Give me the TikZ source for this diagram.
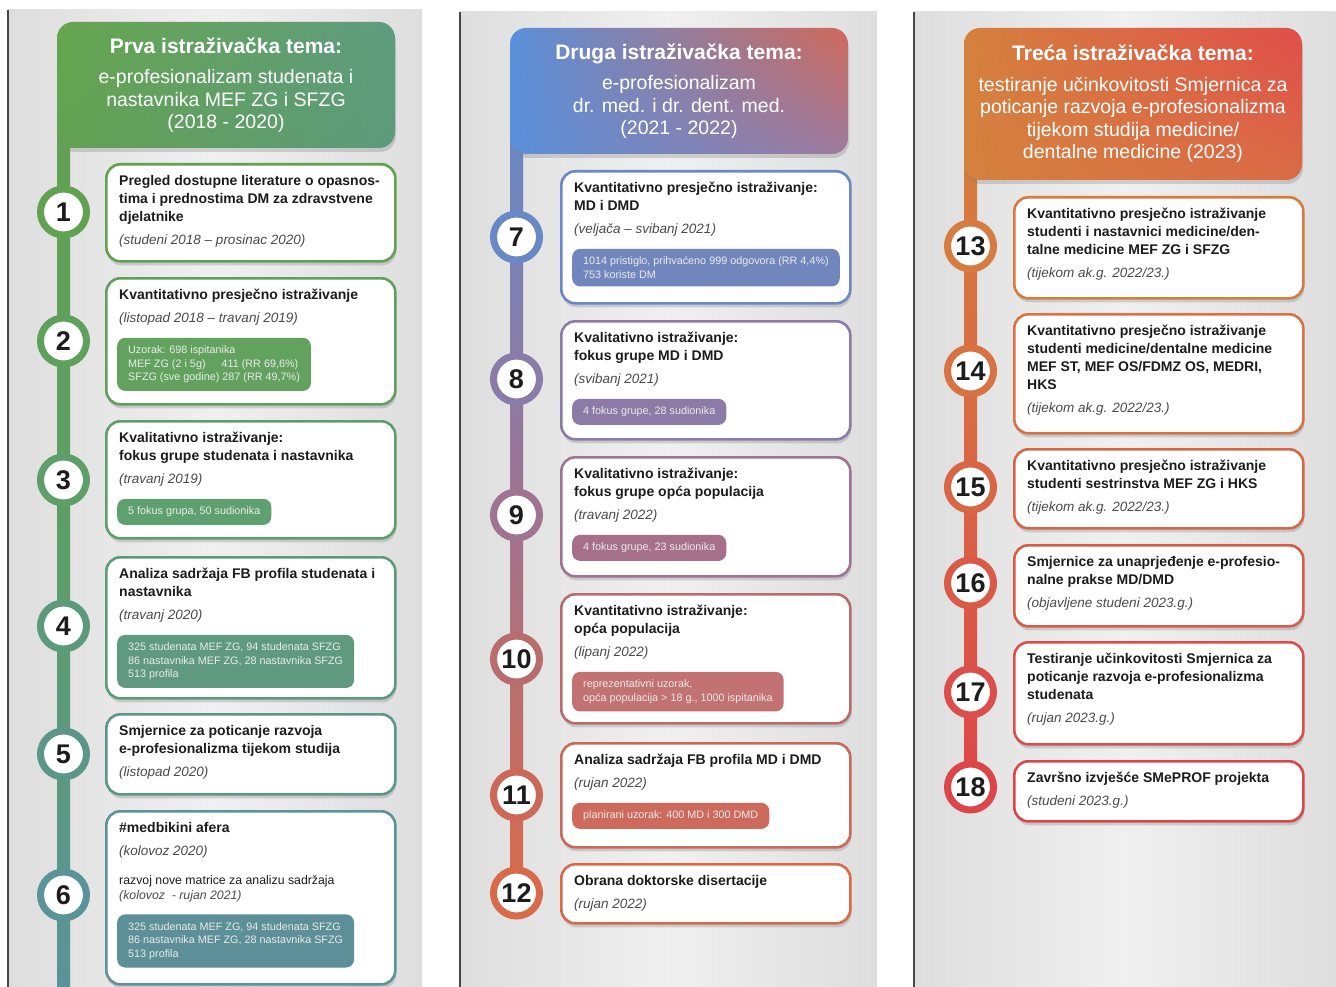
\documentclass[tikz,border=0pt]{standalone}
\usepackage{fontspec}
\setmainfont{Liberation Sans}
\usepackage{xcolor}
\usetikzlibrary{positioning,shadows,shadings}

% panel 1 (green)
\definecolor{gA}{HTML}{62A152}
\definecolor{gB}{HTML}{5FA05C}
\definecolor{gC}{HTML}{5E9E68}
\definecolor{gD}{HTML}{5C9A7C}
\definecolor{gE}{HTML}{5B9788}
\definecolor{gF}{HTML}{5A9398}
% panel 2 (blue to red)
\definecolor{bA}{HTML}{6A88C6}
\definecolor{bB}{HTML}{8A7CA8}
\definecolor{bC}{HTML}{A07390}
\definecolor{bD}{HTML}{B86C6C}
\definecolor{bE}{HTML}{CC6858}
\definecolor{bF}{HTML}{D86A4A}
% panel 3 (orange to red)
\definecolor{oA}{HTML}{D67C40}
\definecolor{oB}{HTML}{D87242}
\definecolor{oC}{HTML}{D86645}
\definecolor{oD}{HTML}{DA5A48}
\definecolor{oE}{HTML}{DC4E4C}
\definecolor{oF}{HTML}{DD4649}
% badges
\definecolor{badgeA}{HTML}{63A25E}
\definecolor{badgeB}{HTML}{5FA070}
\definecolor{badgeC}{HTML}{5F9A80}
\definecolor{badgeD}{HTML}{5C8F98}
\definecolor{badgeE}{HTML}{7086BC}
\definecolor{badgeF}{HTML}{8B7BA6}
\definecolor{badgeG}{HTML}{A6708A}
\definecolor{badgeH}{HTML}{C27272}
\definecolor{badgeI}{HTML}{CD6A5C}
% headers
\definecolor{headA}{HTML}{66A64E}
\definecolor{headB}{HTML}{5E9C80}
\definecolor{headC}{HTML}{5A8FDA}
\definecolor{headD}{HTML}{D0695A}
\definecolor{headE}{HTML}{9E7A9E}
\definecolor{headF}{HTML}{D5813E}
\definecolor{headG}{HTML}{E04E4A}
\definecolor{headH}{HTML}{DA6B45}
% text
\definecolor{titleblack}{HTML}{1C1C1C}
\definecolor{dategray}{HTML}{4A4A4A}

\begin{document}
\begin{tikzpicture}[
  x=1pt, y=-1pt,
  every node/.style={font=\fontsize{14}{18}\selectfont},
  panel/.style={left color=gray!26, right color=gray!26, middle color=gray!12},
  head/.style={
    rounded corners=16pt, minimum width=338pt, text=white, align=center,
    font=\fontsize{19.5}{22.5}\selectfont,
    drop shadow={opacity=0.3, shadow xshift=1pt, shadow yshift=-4pt}
  },
  card/.style={
    draw=#1, line width=2.6pt, fill=white, rounded corners=14pt,
    minimum width=289pt, anchor=north west,
    drop shadow={opacity=0.3, shadow xshift=1pt, shadow yshift=-4pt}
  },
  dot/.style={
    circle, draw=#1, line width=7pt, fill=white, minimum size=46pt,
    inner sep=0pt, text=titleblack, font=\fontsize{27}{27}\selectfont\bfseries
  },
  txt/.style={
    align=left, inner sep=0pt, anchor=north west, text=titleblack,
    font=\fontsize{14}{18}\selectfont\bfseries
  },
  datefont/.style={font=\fontsize{13.5}{18}\selectfont},
  badge/.style={
    fill=#1, rounded corners=8pt, inner xsep=11pt, inner ysep=8pt,
    align=left, anchor=north west, text=white!92!black,
    font=\fontsize{10.8}{13.5}\selectfont
  }
]

\useasboundingbox (0,0) rectangle (1336,987);

% --- Panels ---
\shade[panel] (8,10) rectangle (422,987);
\shade[panel] (460,12) rectangle (877,987);
\shade[panel] (914,12) rectangle (1336,987);
\draw[gray!55!black, line width=1.2pt] (8,10) -- (8,987);
\draw[gray!55!black, line width=1.2pt] (460,12) -- (460,987);
\draw[gray!55!black, line width=1.2pt] (914,12) -- (914,987);

% --- Spines ---
\coordinate (s1) at (57,130);
\coordinate (e1) at (70,987);
\coordinate (s2) at (510,136);
\coordinate (e2) at (523,893);
\coordinate (s3) at (964,162);
\coordinate (e3) at (977,787);
\shade[top color=gA, bottom color=gF, middle color=gC] (s1) rectangle (e1);
\shade[top color=bA, bottom color=bF, middle color=bC] (s2) rectangle (e2);
\shade[top color=oA, bottom color=oF, middle color=oC] (s3) rectangle (e3);

% --- Headers ---
\node[head, minimum height=126pt, upper left=headA, lower left=gA,
  upper right=headB, lower right=gD] (h1) at (226,85)
  {{\fontsize{21}{24}\selectfont\bfseries Prva istraživačka tema:}\\[8pt]
   e-profesionalizam studenata i\\nastavnika MEF ZG i SFZG\\(2018 - 2020)};

\node[head, minimum height=126pt, upper left=headC, lower left=headC,
  upper right=headD, lower right=headE] (h2) at (679,91)
  {{\fontsize{21}{24}\selectfont\bfseries Druga istraživačka tema:}\\[8pt]
   e-profesionalizam\\dr. med. i dr. dent. med.\\(2021 - 2022)};

\node[head, minimum height=152pt, upper left=headF, lower left=headF,
  upper right=headG, lower right=headH] (h3) at (1133,104)
  {{\fontsize{21}{24}\selectfont\bfseries Treća istraživačka tema:}\\[8pt]
   testiranje učinkovitosti Smjernica za\\poticanje razvoja e-profesionalizma\\tijekom studija medicine/\\dentalne medicine (2023)};

% --- Steps, first theme ---
\node[dot=gA] (n1) at (63.5,212) {1};
\node[dot=gB] (n2) at (63.5,341) {2};
\node[dot=gC] (n3) at (63.5,480) {3};
\node[dot=gD] (n4) at (63.5,626) {4};
\node[dot=gE] (n5) at (63.5,754) {5};
\node[dot=gF] (n6) at (63.5,895) {6};

\node[card=gA, minimum height=97pt] (k1) at (105,163) {};
\node[txt, below right=12pt and 14pt of k1.north west] (t1)
  {Pregled dostupne literature o opasnos-\\tima i prednostima DM za zdravstvene\\djelatnike\\[5pt]
   \mdseries\itshape\fontsize{13.5}{18}\selectfont\color{dategray}(studeni 2018 – prosinac 2020)};

\node[card=gB, minimum height=126pt] (k2) at (105,277) {};
\node[txt, below right=12pt and 14pt of k2.north west] (t2)
  {Kvantitativno presječno istraživanje\\[5pt]
   \mdseries\itshape\fontsize{13.5}{18}\selectfont\color{dategray}(listopad 2018 – travanj 2019)};
\node[badge=badgeA, below right=12pt and -2pt of t2.south west] (b2)
  {Uzorak: 698 ispitanika\\MEF ZG (2 i 5g)\hspace{16pt}411 (RR 69,6\%)\\SFZG (sve godine)\ 287 (RR 49,7\%)};

\node[card=gC, minimum height=117pt] (k3) at (105,420) {};
\node[txt, below right=12pt and 14pt of k3.north west] (t3)
  {Kvalitativno istraživanje:\\fokus grupe studenata i nastavnika\\[5pt]
   \mdseries\itshape\fontsize{13.5}{18}\selectfont\color{dategray}(travanj 2019)};
\node[badge=badgeB, below right=12pt and -2pt of t3.south west] (b3)
  {5 fokus grupa, 50 sudionika};

\node[card=gD, minimum height=141pt] (k4) at (105,556) {};
\node[txt, below right=12pt and 14pt of k4.north west] (t4)
  {Analiza sadržaja FB profila studenata i\\nastavnika\\[5pt]
   \mdseries\itshape\fontsize{13.5}{18}\selectfont\color{dategray}(travanj 2020)};
\node[badge=badgeC, below right=12pt and -2pt of t4.south west] (b4)
  {325 studenata MEF ZG, 94 studenata SFZG\\86 nastavnika MEF ZG, 28 nastavnika SFZG\\513 profila};

\node[card=gE, minimum height=80pt] (k5) at (105,713) {};
\node[txt, below right=12pt and 14pt of k5.north west] (t5)
  {Smjernice za poticanje razvoja\\e-profesionalizma tijekom studija\\[5pt]
   \mdseries\itshape\fontsize{13.5}{18}\selectfont\color{dategray}(listopad 2020)};

\node[card=gF, minimum height=173pt] (k6) at (105,810) {};
\node[txt, below right=12pt and 14pt of k6.north west] (t6)
  {\#medbikini afera\\[5pt]
   \mdseries\itshape\fontsize{13.5}{18}\selectfont\color{dategray}(kolovoz 2020)};
\node[txt, font=\fontsize{12.3}{15}\selectfont, below right=17pt and 0pt of t6.south west] (r6)
  {razvoj nove matrice za analizu sadržaja\\\itshape\color{dategray}(kolovoz\ \ - rujan 2021)};
\node[badge=badgeD, below right=12pt and -2pt of r6.south west] (b6)
  {325 studenata MEF ZG, 94 studenata SFZG\\86 nastavnika MEF ZG, 28 nastavnika SFZG\\513 profila};

% --- Steps, second theme ---
\node[dot=bA] (n7) at (516.5,237) {7};
\node[dot=bB] (n8) at (516.5,379) {8};
\node[dot=bC] (n9) at (516.5,515) {9};
\node[dot=bD] (n10) at (516.5,659) {10};
\node[dot=bE] (n11) at (516.5,795) {11};
\node[dot=bF] (n12) at (516.5,893) {12};

\node[card=bA, minimum height=132pt] (k7) at (560,170) {};
\node[txt, below right=12pt and 14pt of k7.north west] (t7)
  {Kvantitativno presječno istraživanje:\\MD i DMD\\[5pt]
   \mdseries\itshape\fontsize{13.5}{18}\selectfont\color{dategray}(veljača – svibanj 2021)};
\node[badge=badgeE, below right=12pt and -2pt of t7.south west] (b7)
  {1014 pristiglo, prihvaćeno 999 odgovora (RR 4,4\%)\\753 koriste DM};

\node[card=bB, minimum height=118pt] (k8) at (560,320) {};
\node[txt, below right=12pt and 14pt of k8.north west] (t8)
  {Kvalitativno istraživanje:\\fokus grupe MD i DMD\\[5pt]
   \mdseries\itshape\fontsize{13.5}{18}\selectfont\color{dategray}(svibanj 2021)};
\node[badge=badgeF, below right=12pt and -2pt of t8.south west] (b8)
  {4 fokus grupe, 28 sudionika};

\node[card=bC, minimum height=119pt] (k9) at (560,456) {};
\node[txt, below right=12pt and 14pt of k9.north west] (t9)
  {Kvalitativno istraživanje:\\fokus grupe opća populacija\\[5pt]
   \mdseries\itshape\fontsize{13.5}{18}\selectfont\color{dategray}(travanj 2022)};
\node[badge=badgeG, below right=12pt and -2pt of t9.south west] (b9)
  {4 fokus grupe, 23 sudionika};

\node[card=bD, minimum height=129pt] (k10) at (560,593) {};
\node[txt, below right=12pt and 14pt of k10.north west] (t10)
  {Kvantitativno istraživanje:\\opća populacija\\[5pt]
   \mdseries\itshape\fontsize{13.5}{18}\selectfont\color{dategray}(lipanj 2022)};
\node[badge=badgeH, below right=12pt and -2pt of t10.south west] (b10)
  {reprezentativni uzorak,\\opća populacija > 18 g., 1000 ispitanika};

\node[card=bE, minimum height=104pt] (k11) at (560,742) {};
\node[txt, below right=12pt and 14pt of k11.north west] (t11)
  {Analiza sadržaja FB profila MD i DMD\\[5pt]
   \mdseries\itshape\fontsize{13.5}{18}\selectfont\color{dategray}(rujan 2022)};
\node[badge=badgeI, below right=12pt and -2pt of t11.south west] (b11)
  {planirani uzorak: 400 MD i 300 DMD};

\node[card=bF, minimum height=59pt] (k12) at (560,863) {};
\node[txt, below right=12pt and 14pt of k12.north west] (t12)
  {Obrana doktorske disertacije\\[5pt]
   \mdseries\itshape\fontsize{13.5}{18}\selectfont\color{dategray}(rujan 2022)};

% --- Steps, third theme ---
\node[dot=oA] (n13) at (970.5,246) {13};
\node[dot=oB] (n14) at (970.5,371) {14};
\node[dot=oC] (n15) at (970.5,487) {15};
\node[dot=oD] (n16) at (970.5,583) {16};
\node[dot=oE] (n17) at (970.5,692) {17};
\node[dot=oF] (n18) at (970.5,787) {18};

\node[card=oA, minimum height=101pt] (k13) at (1013,196) {};
\node[txt, below right=12pt and 14pt of k13.north west] (t13)
  {Kvantitativno presječno istraživanje\\studenti i nastavnici medicine/den-\\talne medicine MEF ZG i SFZG\\[5pt]
   \mdseries\itshape\fontsize{13.5}{18}\selectfont\color{dategray}(tijekom ak.g. 2022/23.)};

\node[card=oB, minimum height=119pt] (k14) at (1013,313) {};
\node[txt, below right=12pt and 14pt of k14.north west] (t14)
  {Kvantitativno presječno istraživanje\\studenti medicine/dentalne medicine\\MEF ST, MEF OS/FDMZ OS, MEDRI,\\HKS\\[5pt]
   \mdseries\itshape\fontsize{13.5}{18}\selectfont\color{dategray}(tijekom ak.g. 2022/23.)};

\node[card=oC, minimum height=79pt] (k15) at (1013,448) {};
\node[txt, below right=12pt and 14pt of k15.north west] (t15)
  {Kvantitativno presječno istraživanje\\studenti sestrinstva MEF ZG i HKS\\[5pt]
   \mdseries\itshape\fontsize{13.5}{18}\selectfont\color{dategray}(tijekom ak.g. 2022/23.)};

\node[card=oD, minimum height=81pt] (k16) at (1013,544) {};
\node[txt, below right=12pt and 14pt of k16.north west] (t16)
  {Smjernice za unaprjeđenje e-profesio-\\nalne prakse MD/DMD\\[5pt]
   \mdseries\itshape\fontsize{13.5}{18}\selectfont\color{dategray}(objavljene studeni 2023.g.)};

\node[card=oE, minimum height=102pt] (k17) at (1013,641) {};
\node[txt, below right=12pt and 14pt of k17.north west] (t17)
  {Testiranje učinkovitosti Smjernica za\\poticanje razvoja e-profesionalizma\\studenata\\[5pt]
   \mdseries\itshape\fontsize{13.5}{18}\selectfont\color{dategray}(rujan 2023.g.)};

\node[card=oF, minimum height=60pt] (k18) at (1013,760) {};
\node[txt, below right=12pt and 14pt of k18.north west] (t18)
  {Završno izvješće SMePROF projekta\\[5pt]
   \mdseries\itshape\fontsize{13.5}{18}\selectfont\color{dategray}(studeni 2023.g.)};

\end{tikzpicture}
\end{document}
